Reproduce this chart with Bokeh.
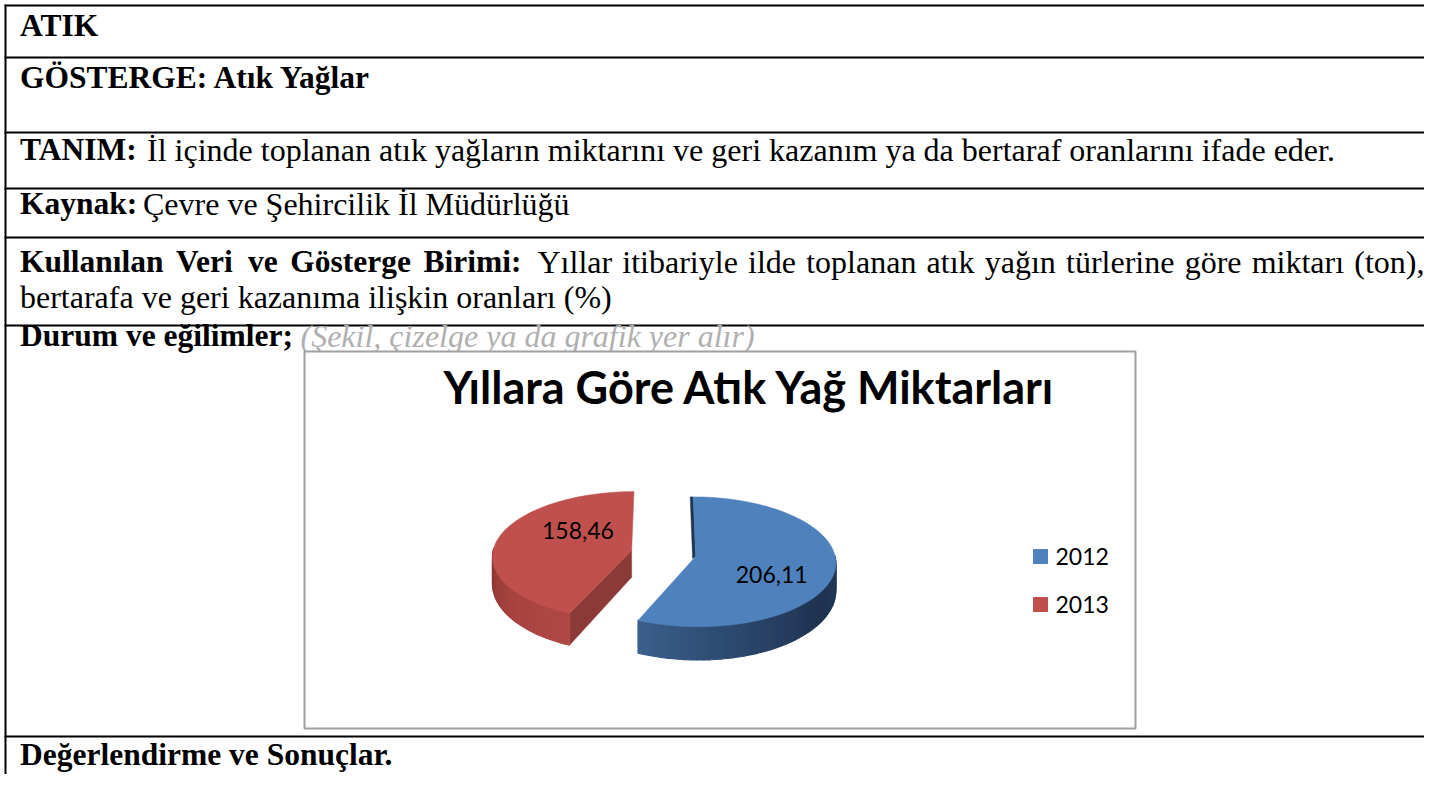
import numpy as np
from bokeh.plotting import figure
from bokeh.models import Range1d
from bokeh.core.properties import value
from bokeh.embed import file_html
from bokeh.resources import INLINE

# ---------------- data ----------------
years = ["2012", "2013"]
amounts = [206.11, 158.46]
slice_colors = ["#4F81BD", "#C0504D"]
chart_title = "Yıllara Göre Atık Yağ Miktarları"

row_heads = ["ATIK", "GÖSTERGE: Atık Yağlar", "TANIM:", "Kaynak:",
             "Durum ve eğilimler;", "Değerlendirme ve Sonuçlar."]
row_texts = ["İl içinde toplanan atık yağların miktarını ve geri kazanım ya da bertaraf oranlarını ifade eder.",
             "Çevre ve Şehircilik İl Müdürlüğü",
             "bertarafa ve geri kazanıma ilişkin oranları (%)"]
unit_head = "Kullanılan Veri ve Gösterge Birimi:"
unit_text = "Yıllar itibariyle ilde toplanan atık yağın türlerine göre miktarı (ton),"
hint_text = "(Şekil, çizelge ya da grafik yer alır)"

# ---------------- figure ----------------
p = figure(width=1424, height=774, x_range=Range1d(0, 1424), y_range=Range1d(774, 0),
           output_backend="svg", toolbar_location=None, min_border=0,
           x_axis_location=None, y_axis_location=None)
p.grid.visible = False
p.outline_line_color = None
p.background_fill_color = "white"
p.border_fill_color = "white"

# table rules
row_lines = [5, 57, 132, 188, 237, 325, 736]
p.segment(x0=[4] * len(row_lines), y0=row_lines, x1=[1440] * len(row_lines), y1=row_lines,
          line_color="black", line_width=2)
p.segment(x0=[5], y0=[4], x1=[5], y1=[790], line_color="black", line_width=2)

SERIF = value("Liberation Serif")
BOLD_FS, REG_FS = 31.5, 32.0
p.text(x=[19.5] * len(row_heads), y=[25, 77, 149, 203, 335, 754], text=row_heads,
       text_font=SERIF, text_font_style="bold", text_font_size="%gpx" % BOLD_FS,
       text_baseline="middle", text_align="left", text_color="black")
p.text(x=[146.5, 142.5, 19.5], y=[149, 203, 296], text=row_texts,
       text_font=SERIF, text_font_size="%gpx" % REG_FS, text_baseline="middle",
       text_align="left", text_color="black")
p.text(x=[300], y=[335], text=[hint_text], text_font=SERIF, text_font_style="italic",
       text_font_size="%gpx" % REG_FS, text_baseline="middle", text_color="#B0B0B0")

# justified first line of the "Kullanılan" row (Times-compatible advance widths)
REG_W = {" ": 250, "Y": 722, "ı": 278, "l": 278, "a": 444, "r": 333, "i": 278, "t": 278,
         "b": 500, "y": 500, "e": 444, "d": 500, "o": 500, "p": 500, "n": 500, "k": 500,
         "ğ": 500, "ü": 500, "g": 500, "ö": 500, "m": 778, "(": 333, ")": 333, ",": 250}
BOLD_W = {"K": 778, "u": 556, "l": 278, "a": 500, "n": 556, "ı": 278, "V": 722, "e": 444,
          "r": 444, "i": 278, "v": 500, "G": 778, "ö": 500, "s": 389, "t": 333, "g": 500,
          "B": 667, "m": 833, ":": 333}


def justify(words, widths, size, x0, x1):
    w = [sum(widths.get(c, 500) for c in wd) * size / 1000.0 for wd in words]
    gap = (x1 - x0 - sum(w)) / max(len(words) - 1, 1)
    xs, x = [], x0
    for wi in w:
        xs.append(x)
        x += wi + gap
    return xs


hw = unit_head.split()
p.text(x=justify(hw, BOLD_W, BOLD_FS, 19.5, 521), y=[261] * len(hw), text=hw,
       text_font=SERIF, text_font_style="bold", text_font_size="%gpx" % BOLD_FS,
       text_baseline="middle", text_align="left", text_color="black")
tw = unit_text.split()
p.text(x=justify(tw, REG_W, REG_FS, 537, 1424), y=[261] * len(tw), text=tw,
       text_font=SERIF, text_font_size="%gpx" % REG_FS, text_baseline="middle",
       text_align="left", text_color="black")

# chart frame
p.quad(left=[304], right=[1135], top=[351], bottom=[728], fill_color="white",
       line_color="#A0A0A0", line_width=2)

CAL = value("Lato")
p.text(x=[749.5], y=[386], text=[chart_title], text_font=CAL, text_font_style="bold",
       text_font_size="45px", text_align="center", text_baseline="middle",
       text_color="black")

# ---------------- 3D exploded pie ----------------
CX, CY = 663.0, 553.0
RX, RY = 139.0, 64.0
KP = 0.08
TH, KT = 27.0, 0.18
EXPL = 0.235


def proj(X, Z):
    w = 1 + KP * Z
    return CX + RX * X / w, CY - RY * Z / w


def thick(Z):
    return TH / (1 + KT * Z)


def lerp_cols(stops, s):
    ss = [a for a, _ in stops]
    rgb = [np.interp(s, ss, [c[k] for _, c in stops]) for k in range(3)]
    return "#%02x%02x%02x" % tuple(int(round(v)) for v in rgb)


side_stops = [
    [(0.0, (36, 58, 92)), (0.3, (31, 50, 80)), (0.7, (45, 74, 112)), (1.0, (60, 95, 140))],
    [(0.0, (176, 73, 70)), (0.5, (165, 66, 63)), (1.0, (138, 54, 52))],
]
cut_colors = ["#1F3550", "#8C3A38"]

vals = np.array(amounts, dtype=float)
edges = np.concatenate([[0.0], np.cumsum(vals / vals.sum())]) * 2 * np.pi

side_xs, side_ys, side_cs = [], [], []
cut_xs, cut_ys, cut_cs = [], [], []
top_xs, top_ys = [], []
label_pos = []
for i in range(len(vals)):
    a0, a1 = edges[i], edges[i + 1]
    am = 0.5 * (a0 + a1)
    dX, dZ = EXPL * np.sin(am), EXPL * np.cos(am)
    t = np.linspace(a0, a1, 90)
    Xa, Za = dX + np.sin(t), dZ + np.cos(t)
    tx, ty = proj(Xa, Za)
    by = ty + thick(Za)
    vis_lo, vis_hi = max(a0, np.pi / 2), min(a1, 1.5 * np.pi)
    for j in range(len(t) - 1):
        tm = 0.5 * (t[j] + t[j + 1])
        if tm < vis_lo - 0.03 or tm > vis_hi + 0.03:
            continue
        s = np.clip((tm - vis_lo) / (vis_hi - vis_lo), 0, 1)
        col = lerp_cols(side_stops[i], s)
        side_xs.append([tx[j], tx[j + 1], tx[j + 1], tx[j]])
        side_ys.append([ty[j], ty[j + 1], by[j + 1], by[j]])
        side_cs.append(col)
    ccx, ccy = proj(dX, dZ)
    cth = thick(dZ)
    if i == 0:
        fx, fy = tx[0], ty[0]
        cut_xs.append([fx, ccx, ccx - 3, fx - 3])
        cut_ys.append([fy, ccy, ccy + 2, fy])
    else:
        ex, ey = tx[0], ty[0]
        eth = thick(Za[0])
        cut_xs.append([ccx, ex, ex, ccx])
        cut_ys.append([ccy, ey, ey + eth, ccy + cth])
    cut_cs.append(cut_colors[i])
    top_xs.append(np.concatenate([[ccx], tx]).tolist())
    top_ys.append(np.concatenate([[ccy], ty]).tolist())
    frac = 0.55 if i == 0 else 0.4
    lx, ly = proj(dX + frac * np.sin(am), dZ + frac * np.cos(am))
    label_pos.append((lx, ly))

p.patches(cut_xs, cut_ys, fill_color=cut_cs, line_color=cut_cs, line_width=0.5)
p.patches(side_xs, side_ys, fill_color=side_cs, line_color=side_cs, line_width=1.2)
p.patches(top_xs, top_ys, fill_color=slice_colors, line_color=slice_colors, line_width=0.5)

labels = [("%.2f" % v).replace(".", ",") for v in amounts]
p.text(x=[label_pos[0][0]], y=[label_pos[0][1]], text=[labels[0]], text_font=CAL,
       text_font_size="23px", text_align="center", text_baseline="middle",
       y_offset=11, text_color="black")
p.text(x=[label_pos[1][0]], y=[label_pos[1][1]], text=[labels[1]], text_font=CAL,
       text_font_size="23px", text_align="center", text_baseline="middle",
       y_offset=-15, text_color="black")

# legend
leg_y = [556 + 48 * k for k in range(len(years))]
p.scatter(x=[1040] * len(years), y=leg_y, marker="square", size=14,
          fill_color=slice_colors, line_color=slice_colors)
p.text(x=[1055] * len(years), y=leg_y, text=years, text_font=CAL, text_font_size="23px",
       text_align="left", text_baseline="middle", text_color="black")

open("out.html", "w").write(file_html(p, INLINE))
